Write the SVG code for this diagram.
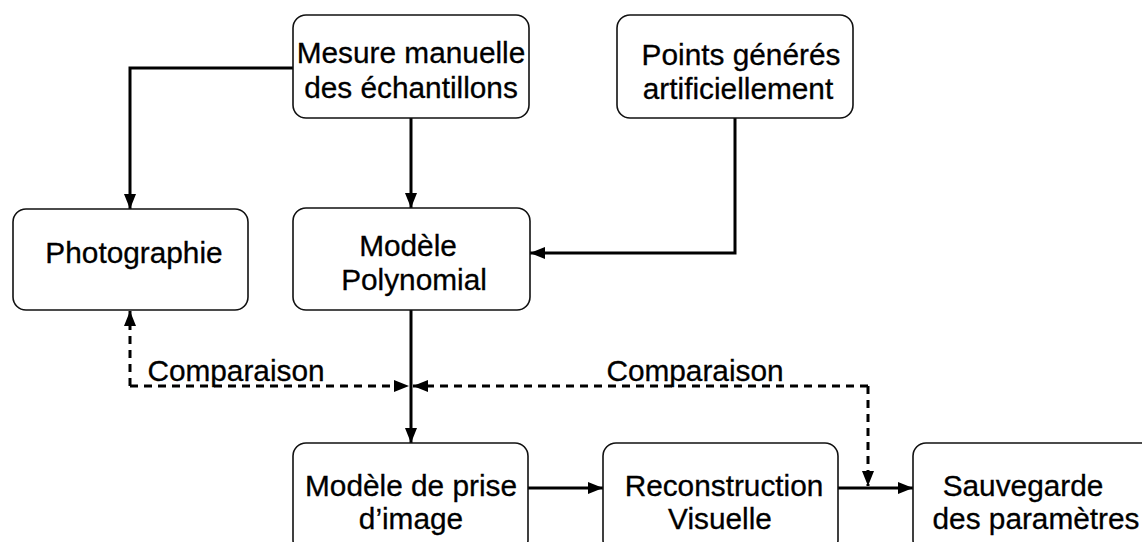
<svg xmlns="http://www.w3.org/2000/svg" width="1142" height="542" viewBox="0 0 1142 542">
<style>
.box{fill:#fff;stroke:#111;stroke-width:1.6}
.t{font-family:"Liberation Sans",Arial,sans-serif;font-size:29.8px;fill:#000;text-anchor:middle;stroke:#000;stroke-width:0.3}
.s{fill:none;stroke:#000;stroke-width:3}
.d{fill:none;stroke:#000;stroke-width:3;stroke-dasharray:8,6}
</style>
<defs>
<marker id="ah" viewBox="0 0 15 12" refX="15" refY="6" markerWidth="15" markerHeight="12" markerUnits="userSpaceOnUse" orient="auto">
<path d="M0,0 L15,6 L0,12 Z" fill="#000"/>
</marker>
</defs>
<rect width="1142" height="542" fill="#fff"/>
<g id="connectors">
<polyline class="s" points="293,68 130,68 130,209" marker-end="url(#ah)"/>
<line class="s" x1="411" y1="118" x2="411" y2="208" marker-end="url(#ah)"/>
<polyline class="s" points="735,118 735,253 530,253" marker-end="url(#ah)"/>
<line class="s" x1="411" y1="310" x2="411" y2="443" marker-end="url(#ah)"/>
<line class="s" x1="528" y1="488" x2="603" y2="488" marker-end="url(#ah)"/>
<line class="s" x1="838" y1="488" x2="913" y2="488" marker-end="url(#ah)"/>
<polyline class="d" points="130,386 130,311" marker-end="url(#ah)"/>
<polyline class="d" points="130,386 409,386" marker-end="url(#ah)"/>
<polyline class="d" points="868,386 413,386" marker-end="url(#ah)"/>
<polyline class="d" points="868,386 868,486" marker-end="url(#ah)"/>
<text class="t" x="236" y="381">Comparaison</text>
<text class="t" x="695" y="381">Comparaison</text>
</g>
<g id="n-mesure">
<rect class="box" x="293" y="15" width="236" height="103" rx="13"/>
<text class="t" x="411" y="63">Mesure manuelle</text>
<text class="t" x="411" y="98">des échantillons</text>
</g>
<g id="n-points">
<rect class="box" x="617" y="15" width="236" height="103" rx="13"/>
<text class="t" x="741" y="65">Points générés</text>
<text class="t" x="738" y="99">artificiellement</text>
</g>
<g id="n-photo">
<rect class="box" x="13" y="209" width="235" height="101" rx="13"/>
<text class="t" x="134" y="263">Photographie</text>
</g>
<g id="n-polynomial">
<rect class="box" x="293" y="208" width="237" height="102" rx="13"/>
<text class="t" x="408" y="256">Modèle</text>
<text class="t" x="414" y="290">Polynomial</text>
</g>
<g id="n-prise">
<rect class="box" x="293" y="443" width="235" height="110" rx="13"/>
<text class="t" x="411" y="496">Modèle de prise</text>
<text class="t" x="411" y="529">d’image</text>
</g>
<g id="n-reconstruction">
<rect class="box" x="603" y="443" width="235" height="110" rx="13"/>
<text class="t" x="724" y="496">Reconstruction</text>
<text class="t" x="720" y="529">Visuelle</text>
</g>
<g id="n-sauvegarde">
<rect class="box" x="913" y="443" width="250" height="110" rx="13"/>
<text class="t" x="1023" y="496">Sauvegarde</text>
<text class="t" x="1036" y="529">des paramètres</text>
</g>
</svg>
